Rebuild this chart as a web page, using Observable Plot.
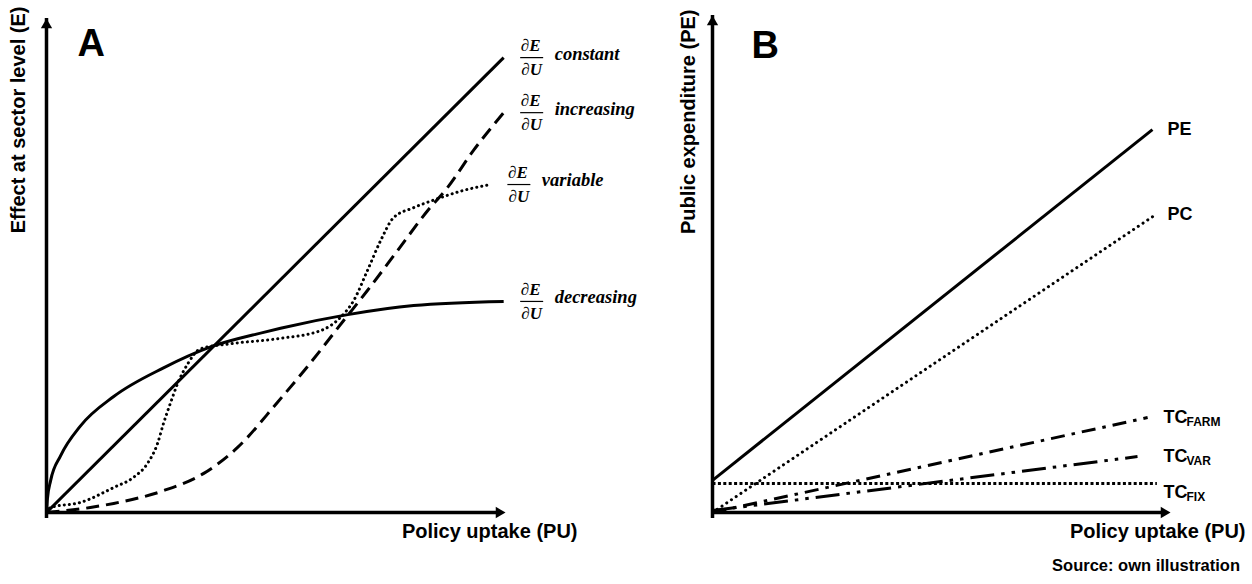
<!DOCTYPE html>
<html><head><meta charset="utf-8">
<script src="https://cdn.jsdelivr.net/npm/d3@7"></script>
<script src="https://cdn.jsdelivr.net/npm/@observablehq/plot@0.6"></script>
<style>
body{margin:0;background:#fff;width:1252px;height:584px;overflow:hidden;font-family:"Liberation Sans",Arial,sans-serif;position:relative;}
#wrap{display:flex;}
#caption{position:absolute;right:12px;top:556px;font-weight:bold;font-size:16.5px;font-family:"Liberation Sans",Arial,sans-serif;color:#000;}
</style></head><body>
<div id="wrap"><div id="a"></div><div id="b"></div></div>
<div id="caption">Source: own illustration</div>
<script>
// ---------- Panel A data (policy uptake vs effect at sector level) ----------
const constantU = [0, 100];
const constantE = [0, 100];
const increasingU = [0, 9.6, 14.7, 25.6, 34.4, 41.8, 50.5, 56.7, 65.0, 70.2, 76.8, 83.4, 87.7, 93.4, 100];
const increasingE = [0, 1.1, 2.0, 4.8, 8.6, 14.3, 24.2, 31.6, 42.2, 48.8, 57.6, 66.4, 71.4, 79.6, 87.9];
const variableU = [0, 0.9, 7.4, 14.7, 19.0, 22.1, 24.3, 25.6, 27.1, 28.7, 30.9, 33.7, 40.3, 50.5, 60.0, 64.3, 67.2, 70.2, 73.1, 75.9, 80.3, 85.6, 91.2, 97.2];
const variableE = [0, 1.1, 2.2, 5.5, 7.7, 10.8, 15.2, 19.6, 24.0, 28.4, 32.7, 36.0, 37.1, 38.2, 40.0, 42.9, 46.6, 53.2, 59.8, 64.8, 67.0, 69.0, 70.8, 72.1];
const decreasingU = [0, 0.2, 0.9, 3.1, 7.4, 14.7, 25.6, 35.9, 47.5, 51.2, 65.9, 80.3, 100];
const decreasingE = [0, 3.0, 7.0, 12.5, 19.0, 25.5, 31.8, 36.4, 39.6, 40.5, 43.5, 45.5, 46.4];
const seriesNamesA = ["constant", "increasing", "variable", "decreasing"];

// ---------- Panel B data (policy uptake vs public expenditure) ----------
const peU = [0, 100];
const peV = [8.4, 100];
const pcU = [0, 101];
const pcV = [0, 78];
const tcFixU = [0, 101];
const tcFixV = [7.6, 7.6];
const tcFarmU = [0, 98.9];
const tcFarmV = [0, 24.8];
const tcVarU = [0, 96.6];
const tcVarV = [0.5, 14.6];
const seriesNamesB = ["PE", "PC", "TCFARM", "TCVAR", "TCFIX"];
const labelMainB = ["PE", "PC", "TC", "TC", "TC"];
const labelSubB = ["", "", "FARM", "VAR", "FIX"];

// ---------- Axis extents (arrow tips) ----------
const xMaxA = 100.4, yMaxA = 108.6;
const xMaxB = 104.1, yMaxB = 129.8;

const zip = (name, us, vs) => us.map((u, i) => ({name, u, v: vs[i]}));

const dataA = [
  ...zip("constant", constantU, constantE),
  ...zip("increasing", increasingU, increasingE),
  ...zip("variable", variableU, variableE),
  ...zip("decreasing", decreasingU, decreasingE)
];
const dataB = [
  ...zip("PE", peU, peV),
  ...zip("PC", pcU, pcV),
  ...zip("TCFARM", tcFarmU, tcFarmV),
  ...zip("TCVAR", tcVarU, tcVarV),
  ...zip("TCFIX", tcFixU, tcFixV)
];

const styleA = {
  constant: {dash: null, w: 3},
  increasing: {dash: "13 7", w: 3},
  variable: {dash: "0.1 5", w: 3, cap: "round"},
  decreasing: {dash: null, w: 3}
};
const styleB = {
  PE: {dash: null, w: 3},
  PC: {dash: "0.1 5.6", w: 3, cap: "round"},
  TCFARM: {dash: "14 7 3.5 7", w: 3},
  TCVAR: {dash: "24 7 3.5 7 3.5 7", w: 3},
  TCFIX: {dash: "3 2.4", w: 3}
};

const lastOf = (data, names) => names.map(n => {
  const pts = data.filter(d => d.name === n);
  return pts[pts.length - 1];
});
const labelsA = lastOf(dataA, seriesNamesA);
const labelsB = lastOf(dataB, seriesNamesB).map((d, i) => ({...d, main: labelMainB[i], sub: labelSubB[i]}));

const fracBar = {draw(ctx) { ctx.moveTo(-11.5, 0); ctx.lineTo(11.5, 0); }};
const sans = "Liberation Sans, Arial, sans-serif";
const serif = "Liberation Serif, Times New Roman, serif";

function axes(xMax, yMax) {
  return [
    Plot.ruleY([0], {x1: 0, x2: xMax, stroke: "black", strokeWidth: 3.5, insetRight: 6}),
    Plot.ruleX([0], {y1: 0, y2: yMax, stroke: "black", strokeWidth: 3.5, insetTop: 6}),
    Plot.dot([{u: xMax, v: 0}], {x: "u", y: "v", symbol: "triangle", rotate: 90, r: 4.2, fill: "black", stroke: "none", dx: -6.5}),
    Plot.dot([{u: 0, v: yMax}], {x: "u", y: "v", symbol: "triangle", r: 4.2, fill: "black", stroke: "none", dy: 6.5})
  ];
}

function seriesLines(data, names, style) {
  return names.map(n => Plot.line(data.filter(d => d.name === n), {
    x: "u", y: "v", curve: "monotone-x", stroke: "black",
    strokeWidth: style[n].w, strokeDasharray: style[n].dash,
    strokeLinecap: style[n].cap || "butt"
  }));
}

// ---------- Panel A ----------
const plotA = Plot.plot({
  width: 660, height: 550,
  marginLeft: 46, marginRight: 155, marginTop: 18, marginBottom: 38,
  x: {domain: [0, xMaxA], axis: null},
  y: {domain: [0, yMaxA], axis: null},
  style: {background: "white", overflow: "visible"},
  marks: [
    ...axes(xMaxA, yMaxA),
    ...seriesLines(dataA, seriesNamesA, styleA),
    Plot.text(labelsA, {x: "u", y: "v", text: () => "\u2202E", dx: 27, dy: -12, fontFamily: serif, fontStyle: "italic", fontWeight: "bold", fontSize: 17}),
    Plot.text(labelsA, {x: "u", y: "v", text: () => "\u2202U", dx: 28, dy: 12, fontFamily: serif, fontStyle: "italic", fontWeight: "bold", fontSize: 17}),
    Plot.dot(labelsA, {x: "u", y: "v", symbol: fracBar, stroke: "black", fill: "none", strokeWidth: 1.2, dx: 28, r: 2}),
    Plot.text(labelsA, {x: "u", y: "v", text: "name", dx: 51, dy: -4, textAnchor: "start", fontFamily: serif, fontStyle: "italic", fontWeight: "bold", fontSize: 18.5}),
    Plot.text(["A"], {frameAnchor: "top-left", textAnchor: "start", dx: 31, dy: 11, fontFamily: sans, fontWeight: "bold", fontSize: 38}),
    Plot.text(["Effect at sector level (E)"], {frameAnchor: "top-left", rotate: -90, textAnchor: "end", dx: -36, dy: -12, fontFamily: sans, fontWeight: "bold", fontSize: 20}),
    Plot.text(["Policy uptake (PU)"], {frameAnchor: "bottom-right", textAnchor: "end", dx: 72, dy: 25, fontFamily: sans, fontWeight: "bold", fontSize: 20})
  ]
});

// ---------- Panel B ----------
const dyB = {PE: 0, PC: 0, TCFARM: 0, TCVAR: 0, TCFIX: 9};
const dxB = {PE: -3, PC: -3, TCFARM: -7, TCVAR: -7, TCFIX: -7};
const plotB = Plot.plot({
  width: 592, height: 550,
  marginLeft: 52, marginRight: 82, marginTop: 15, marginBottom: 38,
  x: {domain: [0, xMaxB], axis: null},
  y: {domain: [0, yMaxB], axis: null},
  style: {background: "transparent", overflow: "visible"},
  marks: [
    ...axes(xMaxB, yMaxB),
    ...seriesLines(dataB, seriesNamesB, styleB),
    ...labelsB.map(d => Plot.text([d], {y: "v", frameAnchor: "right", text: "main", textAnchor: "start", dx: dxB[d.name], dy: dyB[d.name], fontFamily: sans, fontWeight: "bold", fontSize: 18})),
    ...labelsB.filter(d => d.sub).map(d => Plot.text([d], {y: "v", frameAnchor: "right", text: "sub", textAnchor: "start", dx: dxB[d.name] + 23, dy: dyB[d.name] + 5, fontFamily: sans, fontWeight: "bold", fontSize: 12})),
    Plot.text(["B"], {frameAnchor: "top-left", textAnchor: "start", dx: 39, dy: 16, fontFamily: sans, fontWeight: "bold", fontSize: 38}),
    Plot.text(["Public expenditure (PE)"], {frameAnchor: "top-left", rotate: -90, textAnchor: "end", dx: -32, dy: -6, fontFamily: sans, fontWeight: "bold", fontSize: 20}),
    Plot.text(["Policy uptake (PU)"], {frameAnchor: "bottom-right", textAnchor: "end", dx: 75, dy: 25, fontFamily: sans, fontWeight: "bold", fontSize: 20})
  ]
});

document.getElementById("a").append(plotA);
document.getElementById("b").append(plotB);
</script>
</body></html>
